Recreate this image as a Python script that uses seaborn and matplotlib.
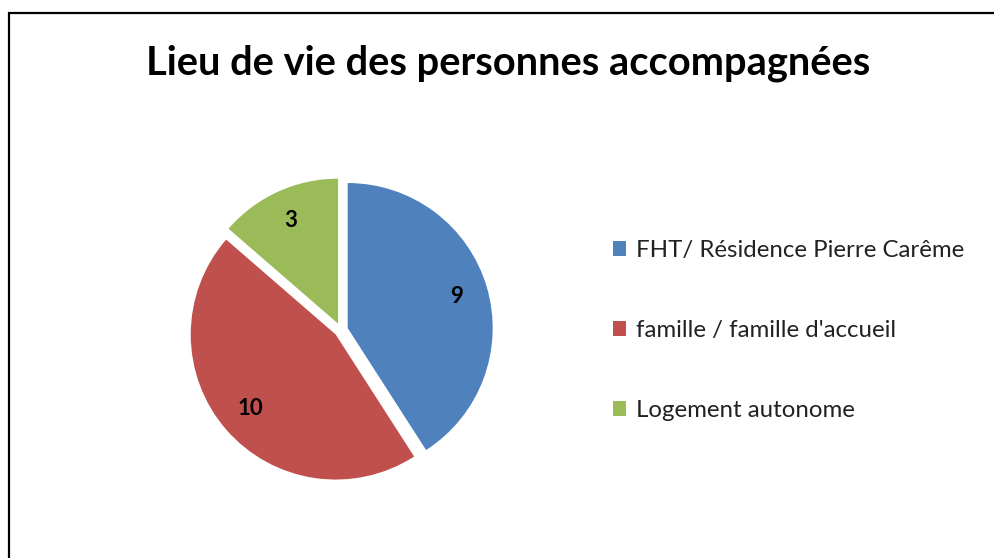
import matplotlib
matplotlib.use("Agg")
import matplotlib.pyplot as plt
import seaborn as sns
from matplotlib.patches import Rectangle

categories = ["FHT/ Résidence Pierre Carême", "famille / famille d'accueil", "Logement autonome"]
values = [9, 10, 3]
colors = ["#4F81BD", "#C0504D", "#9BBB59"]
title = "Lieu de vie des personnes accompagnées"

sns.set_theme(style="white")
plt.rcParams['font.family'] = ['Lato', 'DejaVu Sans']

W, H = 994, 558
fig = plt.figure(figsize=(W / 100, H / 100), dpi=100)
ax = fig.add_axes([0, 0, 1, 1])

cx, cy, R = 341, H - 330, 145
total = sum(values)
wedges, texts, autotexts = ax.pie(
    values, colors=colors, startangle=90, counterclock=False,
    explode=[0.048] * len(values), radius=1,
    autopct=lambda p: f"{round(p * total / 100)}", pctdistance=0.78,
    wedgeprops=dict(linewidth=0),
    textprops=dict(fontsize=16, fontweight='bold', color='black'))

ax.set_aspect('auto')
ax.set_xlim(-cx / R, (W - cx) / R)
ax.set_ylim(-cy / R, (H - cy) / R)
ax.axis('off')

fig.text(508 / W, 1 - 75 / H, title, ha='center', va='baseline',
         fontsize=28.7, fontweight='bold', color='black')

leg = ax.legend(wedges, categories, loc='upper left',
                bbox_to_anchor=(613 / W, 1 - 240 / H), frameon=False,
                fontsize=17.3, handlelength=0.55, handleheight=0.55,
                handletextpad=0.4, labelspacing=2.46, borderaxespad=0,
                borderpad=0)
for t in leg.get_texts():
    t.set_color('#222222')

frame = Rectangle((9 / W, -0.1), 1.2, 1.1 - 13 / H, transform=fig.transFigure,
                  fill=False, edgecolor='black', linewidth=1.6, clip_on=False)
fig.add_artist(frame)

fig.savefig("out.png", dpi=100, facecolor='white')
